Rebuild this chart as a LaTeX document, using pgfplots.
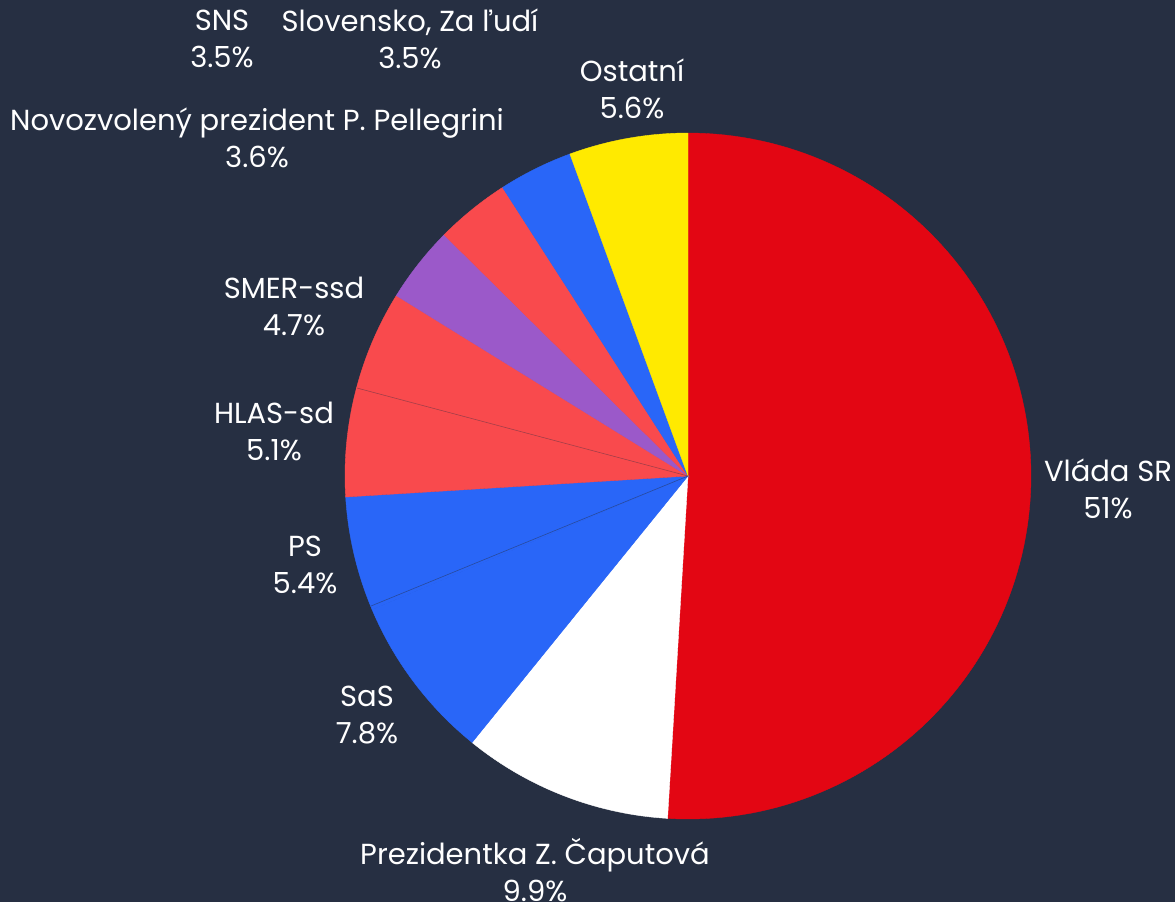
\documentclass[border=0pt]{standalone}
\usepackage{fontspec}
\setmainfont{Poppins}
\usepackage{pgfplots}
\pgfplotsset{compat=1.18}
\definecolor{bgc}{HTML}{262F42}
\definecolor{cred}{HTML}{E30613}
\definecolor{clred}{HTML}{F94A4D}
\definecolor{cblue}{HTML}{2966F8}
\definecolor{cpurple}{HTML}{9B59C9}
\definecolor{cyellow}{HTML}{FFEA00}
\tikzset{lbl/.style={text=white, align=center, font=\fontsize{14.5}{18.5}\selectfont}}
\begin{document}
\begin{tikzpicture}
\begin{axis}[
  width=587.5pt, height=451pt, scale only axis,
  xmin=0, xmax=1175, ymin=0, ymax=902, y dir=reverse,
  axis line style={draw=none}, ticks=none,
  axis background/.style={fill=bgc},
  clip=false,
]
% slices: domain = cumulative percentage (start:end), angle = 360/100.1 per percent
\pgfplotsset{slice/.style={draw=#1, line width=0.2pt, fill=#1, samples=120, variable=\t}}
\addplot[slice=cred,   domain=0:51]      ({688+343*sin(3.5964*\t)},{476-343*cos(3.5964*\t)}) -- (axis cs:688,476) -- cycle;
\addplot[slice=white,  domain=51:60.9]   ({688+343*sin(3.5964*\t)},{476-343*cos(3.5964*\t)}) -- (axis cs:688,476) -- cycle;
\addplot[slice=cblue,  domain=60.9:68.7] ({688+343*sin(3.5964*\t)},{476-343*cos(3.5964*\t)}) -- (axis cs:688,476) -- cycle;
\addplot[slice=cblue,  domain=68.7:74.1] ({688+343*sin(3.5964*\t)},{476-343*cos(3.5964*\t)}) -- (axis cs:688,476) -- cycle;
\addplot[slice=clred,  domain=74.1:79.2] ({688+343*sin(3.5964*\t)},{476-343*cos(3.5964*\t)}) -- (axis cs:688,476) -- cycle;
\addplot[slice=clred,  domain=79.2:83.9] ({688+343*sin(3.5964*\t)},{476-343*cos(3.5964*\t)}) -- (axis cs:688,476) -- cycle;
\addplot[slice=cpurple,domain=83.9:87.5] ({688+343*sin(3.5964*\t)},{476-343*cos(3.5964*\t)}) -- (axis cs:688,476) -- cycle;
\addplot[slice=clred,  domain=87.5:91.0] ({688+343*sin(3.5964*\t)},{476-343*cos(3.5964*\t)}) -- (axis cs:688,476) -- cycle;
\addplot[slice=cblue,  domain=91.0:94.5] ({688+343*sin(3.5964*\t)},{476-343*cos(3.5964*\t)}) -- (axis cs:688,476) -- cycle;
\addplot[slice=cyellow,domain=94.5:100.1]({688+343*sin(3.5964*\t)},{476-343*cos(3.5964*\t)}) -- (axis cs:688,476) -- cycle;
% faint separator lines between same-coloured neighbours
\draw[bgc!50!cblue, line width=0.3pt] (axis cs:688,476) -- (axis cs:371,606);
\draw[bgc!40!clred, line width=0.3pt] (axis cs:688,476) -- (axis cs:357,388);
% labels
\node[lbl] at (axis cs:1108,489) {Vláda SR\\51\%};
\node[lbl] at (axis cs:535,870) {Prezidentka Z. Čaputová\\9.9\%};
\node[lbl] at (axis cs:367,715) {SaS\\7.8\%};
\node[lbl] at (axis cs:305,565) {PS\\5.4\%};
\node[lbl] at (axis cs:274,431) {HLAS-sd\\5.1\%};
\node[lbl] at (axis cs:294,306) {SMER-ssd\\4.7\%};
\node[lbl] at (axis cs:257,138) {Novozvolený prezident P. Pellegrini\\3.6\%};
\node[lbl] at (axis cs:222,39) {SNS\\3.5\%};
\node[lbl] at (axis cs:410,39) {Slovensko, Za ľudí\\3.5\%};
\node[lbl] at (axis cs:632,89) {Ostatní\\5.6\%};
\end{axis}
\pgfresetboundingbox
\path (current axis.south west) rectangle (current axis.north east);
\end{tikzpicture}
\end{document}
